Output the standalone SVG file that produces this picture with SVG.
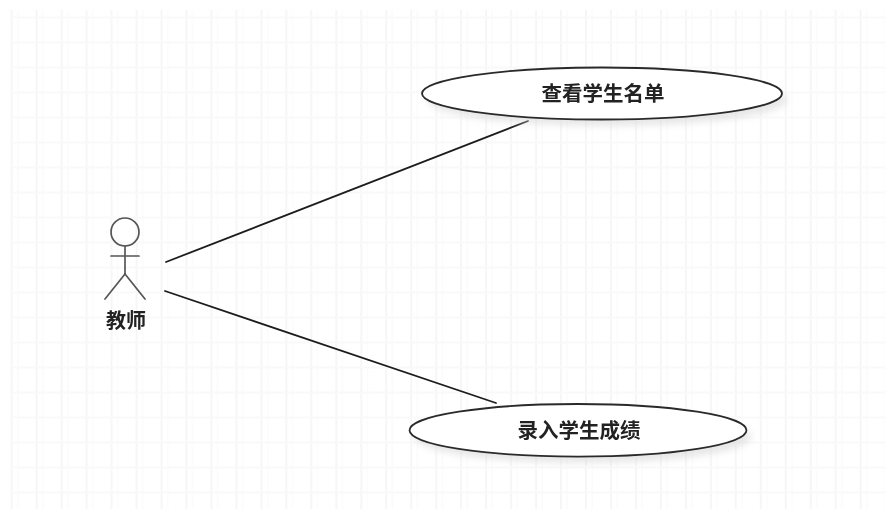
<svg xmlns="http://www.w3.org/2000/svg" width="885" height="509" viewBox="0 0 885 509">
<style>
.line{fill:none;stroke:#1c1c1c;stroke-width:1.8;stroke-linecap:round}
.limb{fill:none;stroke:#555;stroke-width:1.7;stroke-linecap:round}
.uc{fill:#fff;stroke:#2a2a2a;stroke-width:1.8}
.shadow{fill:#d4d4d4;opacity:.55;filter:url(#sh)}
.label{font-family:"Noto Sans CJK SC","Liberation Sans",sans-serif;font-weight:700;fill:#222;text-anchor:middle}
</style>
<defs>
<filter id="sh" x="-10%" y="-40%" width="120%" height="180%"><feGaussianBlur stdDeviation="3.5"/></filter>
<filter id="soft" x="-5%" y="-5%" width="110%" height="110%"><feGaussianBlur stdDeviation="0.35"/></filter>
<pattern id="grid" x="11.7" y="17.5" width="24.97" height="25" patternUnits="userSpaceOnUse">
<rect x="-1" width="2" height="25" fill="#f6f6f6"/>
<rect x="23.97" width="2" height="25" fill="#f6f6f6"/>
<rect x="5.5" width="1.5" height="25" fill="#fbfbfb"/>
<rect y="-1" width="25" height="2" fill="#f9f9f9"/>
<rect y="24" width="25" height="2" fill="#f9f9f9"/>
</pattern>
</defs>
<rect width="885" height="509" fill="#fff"/>
<rect id="background-grid" x="10" y="10" width="875" height="499" fill="url(#grid)"/>
<g id="connectors" filter="url(#soft)">
<line class="line" x1="166" y1="262" x2="528" y2="121"/>
<line class="line" x1="165" y1="291" x2="496" y2="403"/>
</g>
<g id="actor-teacher" filter="url(#soft)">
<circle class="limb" cx="125" cy="232" r="14"/>
<line class="limb" x1="125" y1="246" x2="125" y2="274"/>
<line class="limb" x1="111" y1="256" x2="139" y2="256"/>
<line class="limb" x1="125" y1="274" x2="105" y2="299"/>
<line class="limb" x1="125" y1="274" x2="145" y2="299"/>
<text class="label" x="126" y="328" font-size="20">教师</text>
</g>
<g id="usecase-view-list">
<ellipse class="shadow" cx="607" cy="100" rx="180" ry="26"/>
<g filter="url(#soft)">
<ellipse class="uc" cx="602" cy="93.5" rx="180" ry="26"/>
<text class="label" x="603" y="100.5" font-size="20.5">查看学生名单</text>
</g>
</g>
<g id="usecase-enter-grades">
<ellipse class="shadow" cx="583" cy="437" rx="168.5" ry="26"/>
<g filter="url(#soft)">
<ellipse class="uc" cx="578" cy="430.3" rx="168.5" ry="26.3"/>
<text class="label" x="579" y="438" font-size="20.5">录入学生成绩</text>
</g>
</g>
</svg>
